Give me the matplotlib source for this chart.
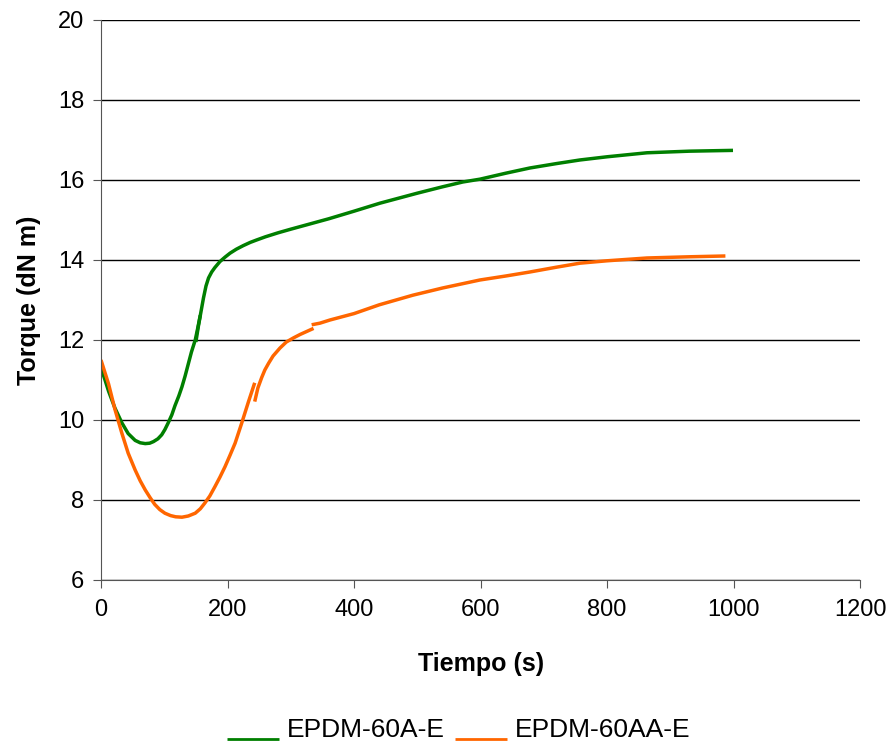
import matplotlib.pyplot as plt
import numpy as np

plt.rcParams['font.family'] = ['Liberation Sans', 'DejaVu Sans']

# EPDM-60A-E (two recorded pieces, overlapping near 155 s)
green_t1 = [0, 6, 12, 22, 33, 43, 54, 62, 70, 77, 83, 90, 96, 101, 106, 112, 117, 123, 128,
            133, 138, 143, 149, 153, 157]
green_y1 = [11.3, 11.02, 10.72, 10.3, 9.93, 9.66, 9.49, 9.43, 9.41, 9.42, 9.46, 9.53, 9.63,
            9.76, 9.92, 10.13, 10.36, 10.6, 10.83, 11.1, 11.4, 11.7, 12.0, 12.3, 12.62]
green_t2 = [150, 154, 158, 162, 166, 170, 175, 180, 188, 196, 204, 214, 225, 236, 246, 260,
            280, 300, 330, 360, 400, 441, 500, 540, 572, 599, 640, 678, 720, 757, 800, 863,
            930, 999]
green_y2 = [11.95, 12.35, 12.7, 13.05, 13.35, 13.55, 13.7, 13.81, 13.96, 14.07, 14.17, 14.27,
            14.36, 14.44, 14.5, 14.58, 14.68, 14.77, 14.9, 15.03, 15.22, 15.42, 15.67, 15.83,
            15.95, 16.02, 16.17, 16.3, 16.41, 16.5, 16.58, 16.68, 16.72, 16.74]

# EPDM-60AA-E (three recorded pieces)
orange_t1 = [0, 6, 12, 22, 33, 43, 54, 62, 70, 78, 85, 93, 101, 110, 118, 128, 138, 149, 157,
             164, 172, 180, 188, 196, 204, 212, 222, 233, 243]
orange_y1 = [11.5, 11.2, 10.9, 10.27, 9.67, 9.17, 8.75, 8.48, 8.25, 8.05, 7.89, 7.76, 7.67,
             7.61, 7.58, 7.57, 7.6, 7.67, 7.78, 7.92, 8.1, 8.33, 8.57, 8.83, 9.12, 9.42, 9.9,
             10.45, 10.93]
orange_t2 = [243, 248, 254, 259, 265, 272, 283, 293, 304, 315, 336]
orange_y2 = [10.46, 10.8, 11.06, 11.25, 11.42, 11.6, 11.8, 11.95, 12.05, 12.14, 12.29]
orange_t3 = [333, 346, 362, 400, 440, 493, 540, 599, 640, 678, 720, 757, 800, 863, 930, 987]
orange_y3 = [12.38, 12.42, 12.5, 12.66, 12.88, 13.12, 13.3, 13.5, 13.6, 13.7, 13.82, 13.92,
             13.98, 14.05, 14.08, 14.1]

x_ticks = [0, 200, 400, 600, 800, 1000, 1200]
y_ticks = [6, 8, 10, 12, 14, 16, 18, 20]

green = '#007f00'
orange = '#ff6600'

fig = plt.figure(figsize=(8.96, 7.48), dpi=100)
ax = fig.add_axes([0.1127, 0.2246, 0.8473, 0.7487])

lw = 2.5
ax.plot(green_t1, green_y1, color=green, lw=lw, label='EPDM-60A-E', solid_capstyle='butt')
ax.plot(green_t2, green_y2, color=green, lw=lw, solid_capstyle='butt')
ax.plot(orange_t1, orange_y1, color=orange, lw=lw, label='EPDM-60AA-E', solid_capstyle='butt')
ax.plot(orange_t2, orange_y2, color=orange, lw=lw, solid_capstyle='butt')
ax.plot(orange_t3, orange_y3, color=orange, lw=lw, solid_capstyle='butt')

ax.set_xlim(0, 1200)
ax.set_ylim(6, 20)
ax.set_xticks(x_ticks)
ax.set_yticks(y_ticks)
ax.yaxis.grid(True, color='black', lw=1)
ax.set_axisbelow(True)
for side in ['top', 'right']:
    ax.spines[side].set_visible(False)
for side in ['left', 'bottom']:
    ax.spines[side].set_color('#555555')
ax.tick_params(axis='both', labelsize=17, direction='out', length=6, color='#555555')
ax.tick_params(axis='x', pad=8)
ax.tick_params(axis='y', pad=6)

ax.set_xlabel('Tiempo (s)', fontsize=18, fontweight='bold', labelpad=22)
ax.set_ylabel('Torque (dN m)', fontsize=18, fontweight='bold', labelpad=12)

leg = fig.legend(loc='center', bbox_to_anchor=(0.512, 0.024), ncol=2, frameon=False,
                 fontsize=19, handlelength=1.95, handletextpad=0.3, columnspacing=0.4)
for line in leg.get_lines():
    line.set_linewidth(2)
    y = line.get_ydata()
    line.set_ydata([yy - 8 for yy in y])

fig.savefig('out.png', dpi=100)
